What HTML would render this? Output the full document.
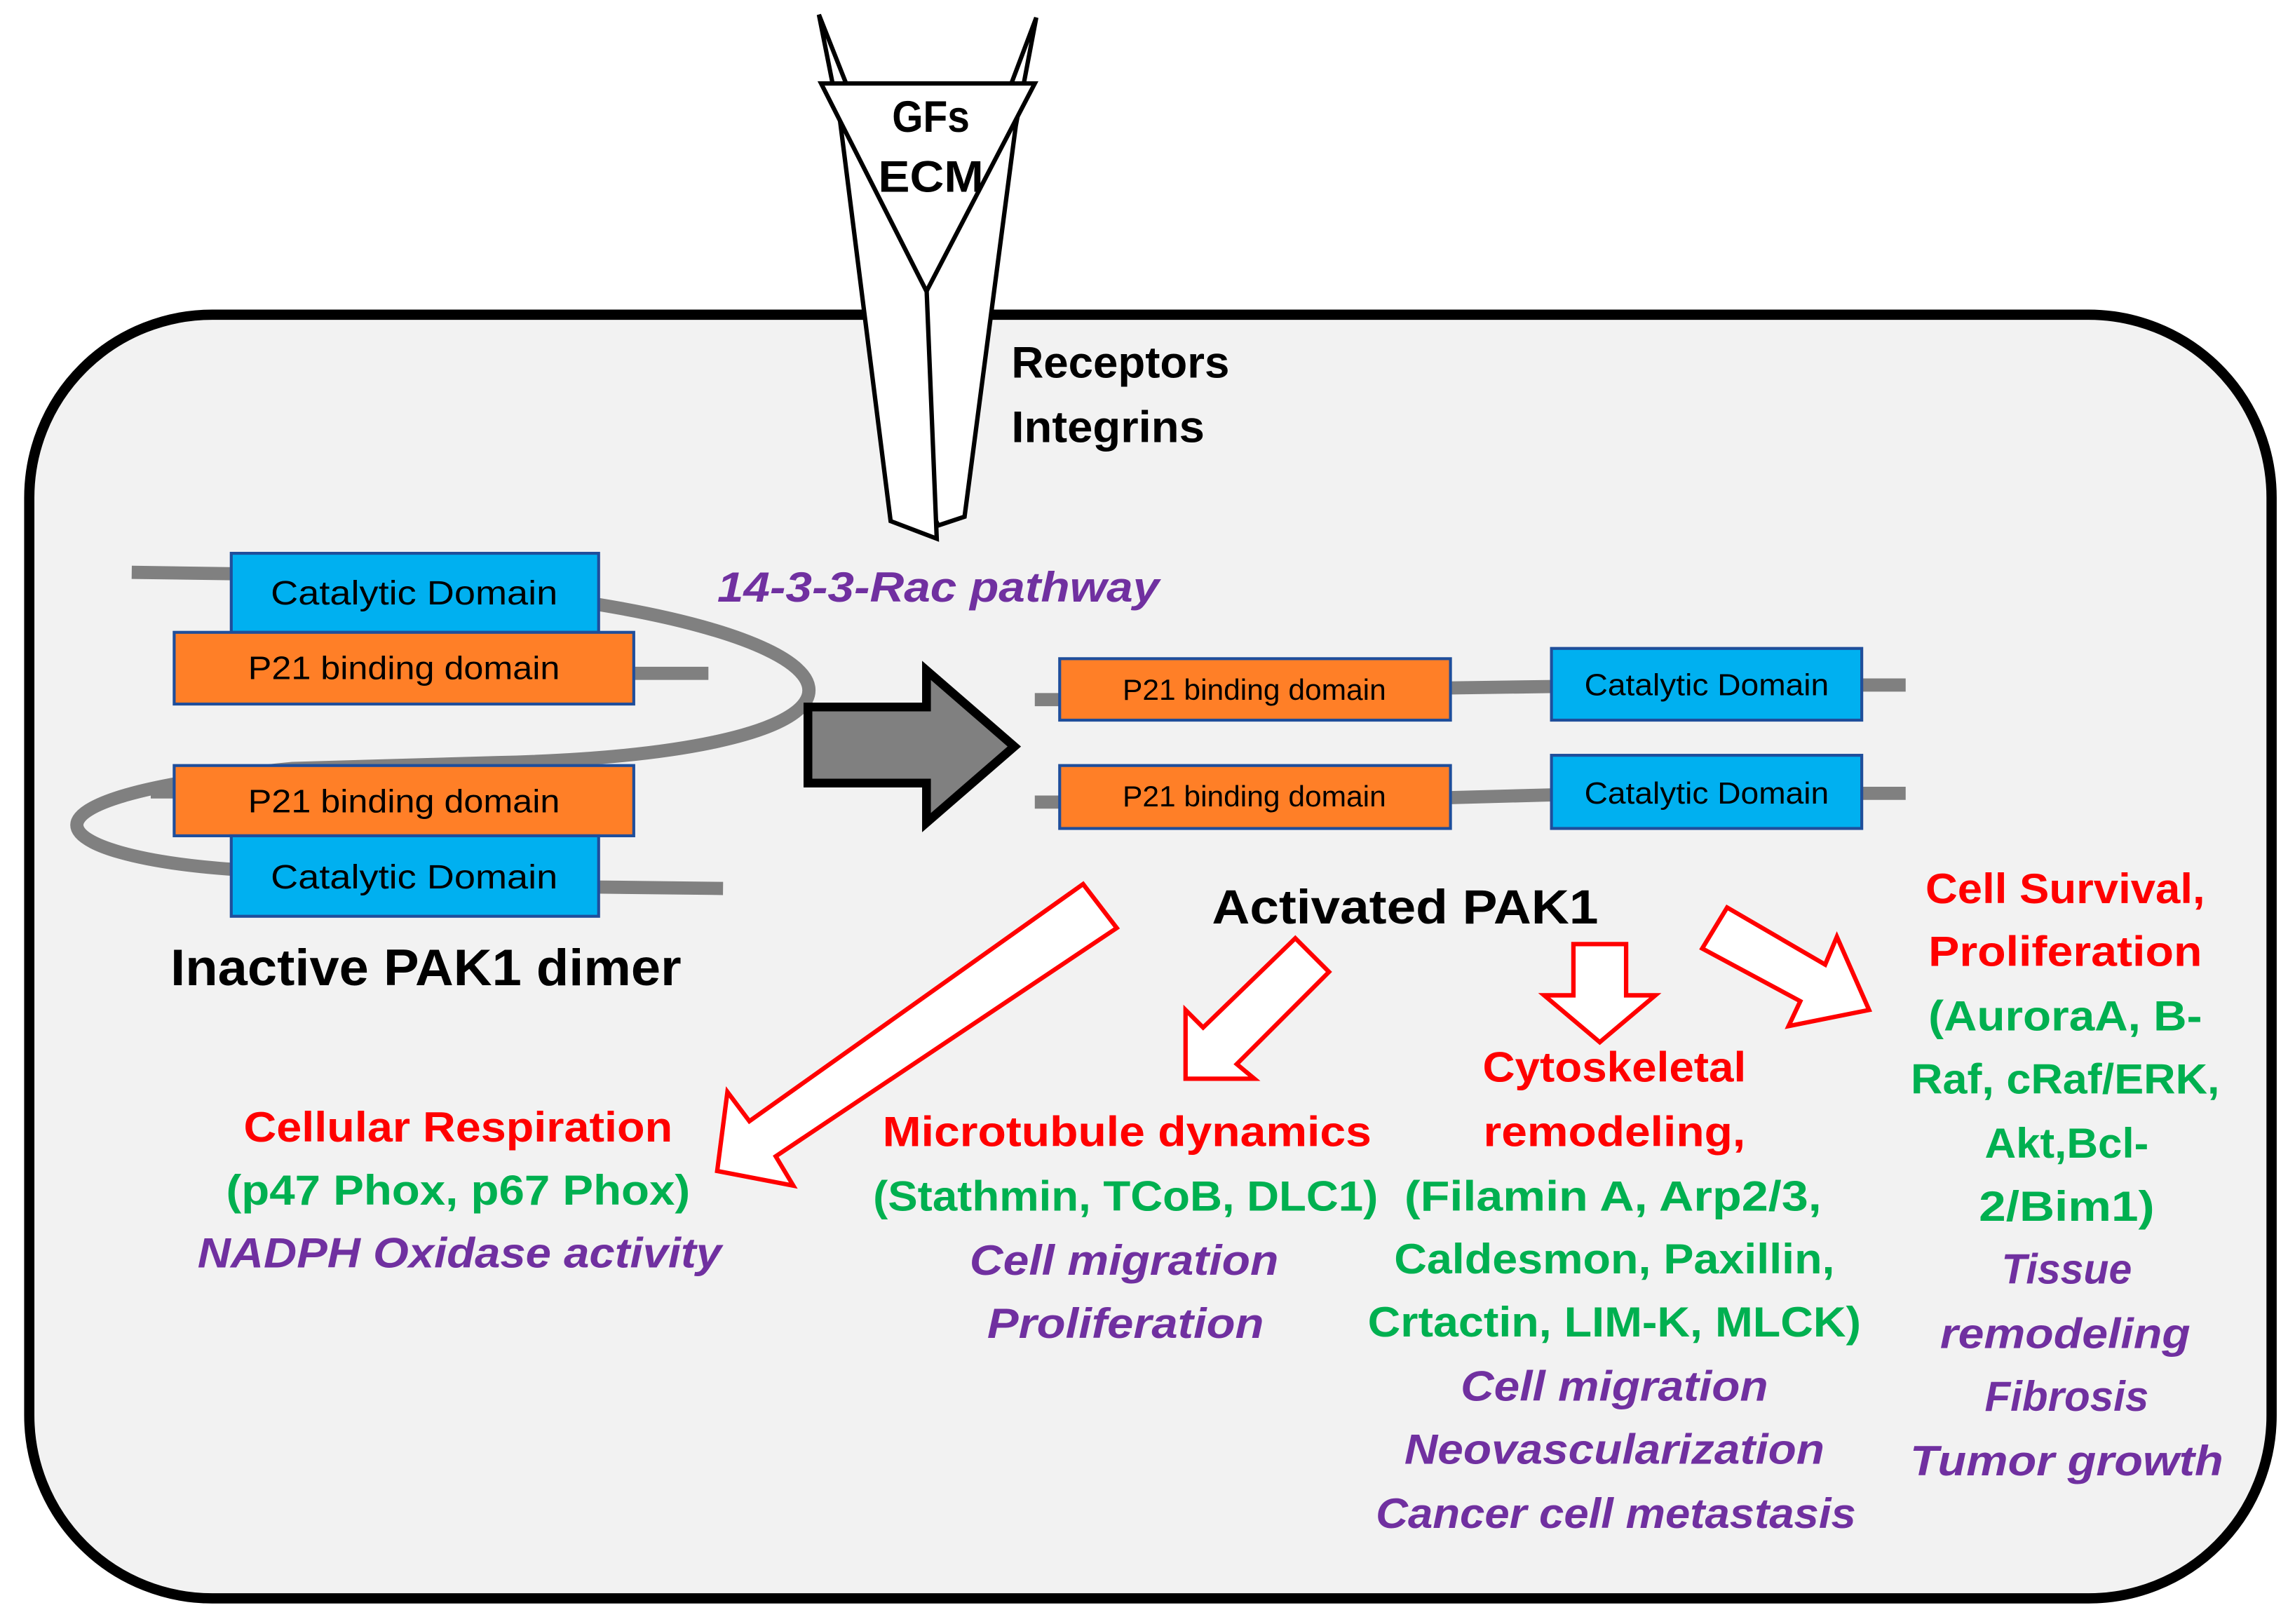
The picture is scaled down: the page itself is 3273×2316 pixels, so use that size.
<!DOCTYPE html>
<html><head><meta charset="utf-8"><style>
html,body{margin:0;padding:0;background:#fff;}
svg{display:block;}
text{font-family:"Liberation Sans",sans-serif;}
.b{font-weight:bold;}
.r{fill:#ff0000;font-weight:bold;font-size:29px;}
.g{fill:#00b050;font-weight:bold;font-size:29px;}
.p{fill:#7030a0;font-weight:bold;font-style:italic;font-size:29px;}
</style></head><body>
<svg width="3273" height="2316" viewBox="0 0 1568 1109.5" xmlns="http://www.w3.org/2000/svg">
<rect x="0" y="0" width="1568" height="1109.5" fill="#fff"/>
<rect x="20" y="215" width="1532" height="877" rx="125" ry="125" fill="#f2f2f2" stroke="#000" stroke-width="7"/>
<g stroke="#000" stroke-width="3" fill="#fff" stroke-linejoin="miter">
<polygon points="708,12 694,86 659,353 641,359 617,306 633,196 691,57"/>
<polygon points="559.5,10 574,83 608.5,356 640,368 633,196"/>
<polygon points="561,57 707,57 633,199"/>
</g>
<text x="636" y="90" text-anchor="middle" font-size="30" class="b" textLength="53" lengthAdjust="spacingAndGlyphs">GFs</text>
<text x="636" y="131" text-anchor="middle" font-size="30" class="b" textLength="72" lengthAdjust="spacingAndGlyphs">ECM</text>
<text x="691" y="258" font-size="30" class="b" textLength="149" lengthAdjust="spacingAndGlyphs">Receptors</text>
<text x="691" y="302" font-size="30" class="b" textLength="132" lengthAdjust="spacingAndGlyphs">Integrins</text>
<g stroke="#808080" stroke-width="9" fill="none">
<line x1="90" y1="391" x2="160" y2="392"/>
<line x1="430" y1="460" x2="484" y2="460"/>
<line x1="103" y1="541" x2="121" y2="541"/>
<line x1="407" y1="606" x2="494" y2="607"/>
<path d="M409,413 C620,448 600,515 340,521 L200,525 C-10,545 30,585 160,594"/>
</g>
<g stroke="#1f4e9b" stroke-width="2">
<rect x="158" y="378" width="251" height="54" fill="#00b0f0"/>
<rect x="119" y="432" width="314" height="49" fill="#ff7f27"/>
<rect x="119" y="523" width="314" height="48" fill="#ff7f27"/>
<rect x="158" y="571" width="251" height="55" fill="#00b0f0"/>
</g>
<text x="283" y="413" text-anchor="middle" font-size="23" textLength="196" lengthAdjust="spacingAndGlyphs">Catalytic Domain</text>
<text x="276" y="464" text-anchor="middle" font-size="22" textLength="213" lengthAdjust="spacingAndGlyphs">P21 binding domain</text>
<text x="276" y="555" text-anchor="middle" font-size="22" textLength="213" lengthAdjust="spacingAndGlyphs">P21 binding domain</text>
<text x="283" y="607" text-anchor="middle" font-size="23" textLength="196" lengthAdjust="spacingAndGlyphs">Catalytic Domain</text>
<text x="291" y="673" text-anchor="middle" font-size="35" class="b" textLength="349" lengthAdjust="spacingAndGlyphs">Inactive PAK1 dimer</text>
<text x="490" y="411" class="p" font-size="30" textLength="302" lengthAdjust="spacingAndGlyphs">14-3-3-Rac pathway</text>
<polygon points="552,483 633,483 633,458 693,510 633,562 633,535 552,535" fill="#808080" stroke="#000" stroke-width="6"/>
<g stroke="#808080" stroke-width="9" fill="none">
<line x1="707" y1="478" x2="726" y2="478"/>
<line x1="989" y1="470" x2="1062" y2="469"/>
<line x1="1270" y1="468" x2="1302" y2="468"/>
<line x1="707" y1="548" x2="726" y2="548"/>
<line x1="989" y1="545" x2="1062" y2="543"/>
<line x1="1270" y1="542" x2="1302" y2="542"/>
</g>
<g stroke="#1f4e9b" stroke-width="2">
<rect x="724" y="450" width="267" height="42" fill="#ff7f27"/>
<rect x="1060" y="443" width="212" height="49" fill="#00b0f0"/>
<rect x="724" y="523" width="267" height="43" fill="#ff7f27"/>
<rect x="1060" y="516" width="212" height="50" fill="#00b0f0"/>
</g>
<text x="857" y="478" text-anchor="middle" font-size="20" textLength="180" lengthAdjust="spacingAndGlyphs">P21 binding domain</text>
<text x="1166" y="475" text-anchor="middle" font-size="21" textLength="167" lengthAdjust="spacingAndGlyphs">Catalytic Domain</text>
<text x="857" y="551" text-anchor="middle" font-size="20" textLength="180" lengthAdjust="spacingAndGlyphs">P21 binding domain</text>
<text x="1166" y="549" text-anchor="middle" font-size="21" textLength="167" lengthAdjust="spacingAndGlyphs">Catalytic Domain</text>
<text x="960" y="631" text-anchor="middle" font-size="33" class="b" textLength="264" lengthAdjust="spacingAndGlyphs">Activated PAK1</text>
<g fill="#fff" stroke="#ff0000" stroke-width="3" stroke-linejoin="miter">
<polygon points="740,604 763,634 530,790 542,810 490,800 497,746 512,766"/>
<polygon points="885,641 908,664 845,727 857,737 810,737 810,690 822,702"/>
<polygon points="1075,645 1111,645 1111,680 1131,680 1093,712 1055,680 1075,680"/>
<polygon points="1180,620 1247,659 1255,640 1277,690 1222,701 1230,684 1163,648"/>
</g>
<text x="313" y="780" text-anchor="middle" class="r" textLength="293" lengthAdjust="spacingAndGlyphs">Cellular Respiration</text>
<text x="313" y="823" text-anchor="middle" class="g" textLength="317" lengthAdjust="spacingAndGlyphs">(p47 Phox, p67 Phox)</text>
<text x="314" y="866" text-anchor="middle" class="p" textLength="358" lengthAdjust="spacingAndGlyphs">NADPH Oxidase activity</text>
<text x="770" y="783" text-anchor="middle" class="r" textLength="334" lengthAdjust="spacingAndGlyphs">Microtubule dynamics</text>
<text x="769" y="827" text-anchor="middle" class="g" textLength="345" lengthAdjust="spacingAndGlyphs">(Stathmin, TCoB, DLC1)</text>
<text x="768" y="871" text-anchor="middle" class="p" textLength="211" lengthAdjust="spacingAndGlyphs">Cell migration</text>
<text x="769" y="914" text-anchor="middle" class="p" textLength="189" lengthAdjust="spacingAndGlyphs">Proliferation</text>
<text x="1103" y="739" text-anchor="middle" class="r" textLength="180" lengthAdjust="spacingAndGlyphs">Cytoskeletal</text>
<text x="1103" y="783" text-anchor="middle" class="r" textLength="179" lengthAdjust="spacingAndGlyphs">remodeling,</text>
<text x="1102" y="827" text-anchor="middle" class="g" textLength="285" lengthAdjust="spacingAndGlyphs">(Filamin A, Arp2/3,</text>
<text x="1103" y="870" text-anchor="middle" class="g" textLength="301" lengthAdjust="spacingAndGlyphs">Caldesmon, Paxillin,</text>
<text x="1103" y="913" text-anchor="middle" class="g" textLength="337" lengthAdjust="spacingAndGlyphs">Crtactin, LIM-K, MLCK)</text>
<text x="1103" y="957" text-anchor="middle" class="p" textLength="210" lengthAdjust="spacingAndGlyphs">Cell migration</text>
<text x="1103" y="1000" text-anchor="middle" class="p" textLength="287" lengthAdjust="spacingAndGlyphs">Neovascularization</text>
<text x="1104" y="1044" text-anchor="middle" class="p" textLength="328" lengthAdjust="spacingAndGlyphs">Cancer cell metastasis</text>
<text x="1411" y="617" text-anchor="middle" class="r" textLength="191" lengthAdjust="spacingAndGlyphs">Cell Survival,</text>
<text x="1411" y="660" text-anchor="middle" class="r" textLength="187" lengthAdjust="spacingAndGlyphs">Proliferation</text>
<text x="1411" y="704" text-anchor="middle" class="g" textLength="187" lengthAdjust="spacingAndGlyphs">(AuroraA, B-</text>
<text x="1411" y="747" text-anchor="middle" class="g" textLength="211" lengthAdjust="spacingAndGlyphs">Raf, cRaf/ERK,</text>
<text x="1412" y="791" text-anchor="middle" class="g" textLength="112" lengthAdjust="spacingAndGlyphs">Akt,Bcl-</text>
<text x="1412" y="834" text-anchor="middle" class="g" textLength="120" lengthAdjust="spacingAndGlyphs">2/Bim1)</text>
<text x="1412" y="877" text-anchor="middle" class="p" textLength="89" lengthAdjust="spacingAndGlyphs">Tissue</text>
<text x="1411" y="921" text-anchor="middle" class="p" textLength="171" lengthAdjust="spacingAndGlyphs">remodeling</text>
<text x="1412" y="964" text-anchor="middle" class="p" textLength="112" lengthAdjust="spacingAndGlyphs">Fibrosis</text>
<text x="1412" y="1008" text-anchor="middle" class="p" textLength="214" lengthAdjust="spacingAndGlyphs">Tumor growth</text>
</svg>
</body></html>
